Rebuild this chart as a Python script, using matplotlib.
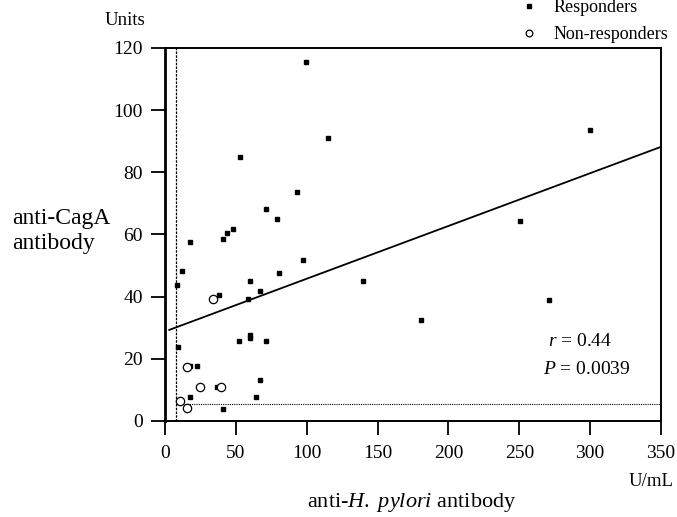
import matplotlib
matplotlib.use('Agg')
import matplotlib.pyplot as plt

plt.rcParams['font.family'] = ['Liberation Serif', 'DejaVu Serif']
plt.rcParams['mathtext.fontset'] = 'custom'
plt.rcParams['mathtext.rm'] = 'Liberation Serif'
plt.rcParams['mathtext.it'] = 'Liberation Serif:italic'

# responders (filled squares)
resp_x = [99.3, 115.3, 52.7, 93.4, 71.5, 78.8, 48.2, 44.0, 40.9, 17.6,
          97.6, 12.0, 80.5, 59.8, 8.7, 67.0, 38.1, 58.4, 52.5, 59.8,
          59.8, 71.5, 8.9, 17.6, 22.4, 67.0, 36.5, 17.6, 64.2, 41.2,
          300.2, 250.8, 140.0, 271.0, 180.9]
resp_y = [115.5, 90.9, 84.9, 73.6, 68.3, 65.0, 61.8, 60.4, 58.5, 57.7,
          51.7, 48.4, 47.7, 45.0, 43.8, 41.7, 40.5, 39.2, 25.8, 27.7,
          26.6, 25.8, 23.8, 17.8, 17.8, 13.2, 11.0, 7.8, 7.8, 3.9,
          93.6, 64.3, 45.0, 39.0, 32.5]

# non-responders (open circles)
nonresp_x = [34.1, 15.3, 24.7, 39.3, 10.6, 15.5]
nonresp_y = [39.3, 17.4, 10.9, 10.8, 6.4, 4.3]

# regression line end points
fit_x = [3, 350]
fit_y = [29.3, 88.2]

# cut-off values
cutoff_x = 8
cutoff_y = 5.5

x_ticks = [0, 50, 100, 150, 200, 250, 300, 350]
y_ticks = [0, 20, 40, 60, 80, 100, 120]

fig = plt.figure(figsize=(6.77, 5.17), dpi=100)
ax = fig.add_axes([0.2437, 0.1857, 0.7327, 0.7215])

ax.axvline(cutoff_x, color='black', lw=0.9, linestyle=(0, (2, 1)), zorder=1)
ax.plot([cutoff_x, x_ticks[-1]], [cutoff_y, cutoff_y], color='black', lw=0.8,
        linestyle=(0, (1, 1)), zorder=1)
ax.plot(fit_x, fit_y, color='black', lw=1.3, zorder=2, clip_on=False)

ax.plot(resp_x, resp_y, linestyle='none', marker='s', markersize=3.2,
        color='black', label='Responders', zorder=3)
ax.plot(nonresp_x, nonresp_y, linestyle='none', marker='o', markersize=6,
        markerfacecolor='white', markeredgecolor='black', markeredgewidth=0.9,
        label='Non-responders', zorder=4)

ax.set_xlim(0, 350)
ax.set_ylim(0, 120)
ax.set_xticks(x_ticks)
ax.set_yticks(y_ticks)
ax.tick_params(axis='both', direction='out', length=10, width=1.3,
               labelsize=14, pad=6)
ax.tick_params(axis='x', pad=7)
for side in ['top', 'right', 'bottom']:
    ax.spines[side].set_linewidth(1.4)
ax.spines['left'].set_linewidth(2.0)

ax.text(270, 25.7, r'$r$ = 0.44', fontsize=14, va='center', ha='left')
ax.text(266.5, 16.7, r'$P$ = 0.0039', fontsize=14, va='center', ha='left')

fig.text(124.5 / 677, 1 - 20.7 / 517, 'Units', fontsize=13.5, ha='center', va='center')
fig.text(674 / 677, 1 - 482 / 517, 'U/mL', fontsize=13.5, ha='right', va='center')
fig.text(11.7 / 677, 1 - 231 / 517, 'anti-CagA\nantibody', fontsize=17,
         ha='left', va='center', multialignment='left', linespacing=1.25)
fig.text(412 / 677, 1 - 503 / 517, r'anti-$\mathit{H.\ pylori}$ antibody',
         fontsize=16, ha='center', va='center')

leg = fig.legend(loc='lower left', bbox_to_anchor=(511 / 677, 1 - 43 / 517),
                 frameon=False, fontsize=13, handlelength=2.0,
                 handletextpad=0.35, borderpad=0, borderaxespad=0,
                 labelspacing=0.55, markerscale=0.8)

fig.savefig('out.png', dpi=100)
